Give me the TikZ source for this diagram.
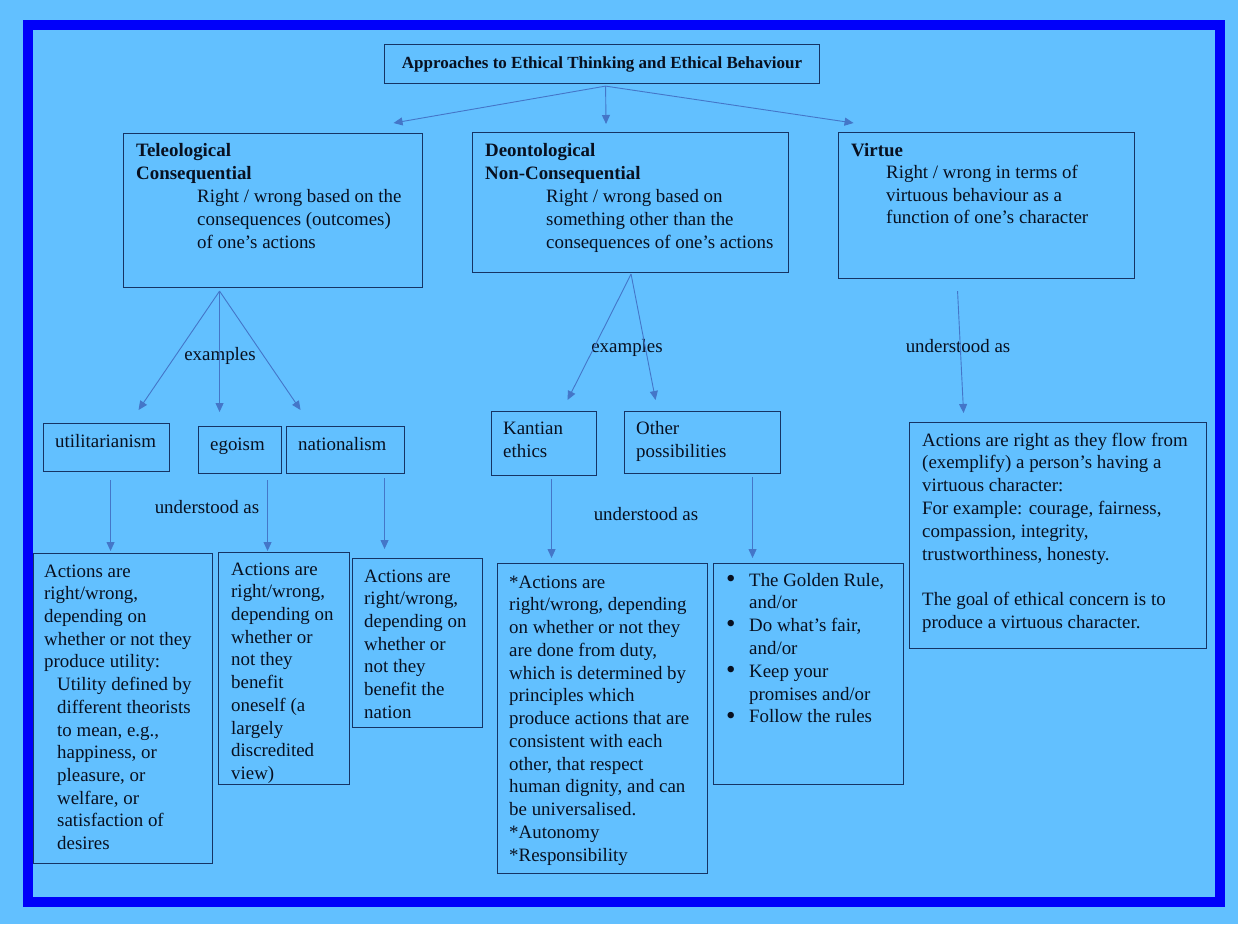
\documentclass[tikz,border=0pt]{standalone}
\usepackage{fontspec}
\setmainfont{Liberation Serif}
\usetikzlibrary{arrows.meta}
\definecolor{bgcol}{RGB}{98,192,255}
\definecolor{framecol}{RGB}{0,0,250}
\definecolor{boxcol}{RGB}{22,52,100}
\definecolor{arrcol}{RGB}{68,118,200}
\definecolor{txtcol}{RGB}{8,16,32}
\newcommand{\bodyfnt}{\fontsize{18.9}{23}\selectfont}
\newcommand{\bul}{\makebox[23pt][l]{\raisebox{-1.2pt}{\fontsize{27}{23}\selectfont •}}}
\begin{document}
\begin{tikzpicture}[x=1pt,y=-1pt,
  box/.style={draw=boxcol,line width=1.1pt,inner sep=0pt,anchor=north west},
  txt/.style={anchor=north west,inner sep=0pt,align=left,text=txtcol,font=\bodyfnt},
  hd/.style={txt,font=\bodyfnt\bfseries},
  lbl/.style={anchor=base,inner sep=0pt,text=txtcol,font=\bodyfnt},
  arr/.style={draw=arrcol,line width=0.9pt,-{Triangle[length=9pt,width=8pt]}}]
\useasboundingbox[fill=bgcol] (0,0) rectangle (1238,924);
\draw[line width=10pt,framecol] (28,25) rectangle (1220,902);
% boxes
\node[box,minimum width=435pt,minimum height=39pt] (title) at (384,44) {};
\node[text=txtcol,font=\fontsize{17}{20}\selectfont\bfseries,inner sep=0pt] (titlet) at (title.center) {Approaches to Ethical Thinking and Ethical Behaviour};
\node[box,minimum width=299pt,minimum height=154pt] (tele) at (123,133) {};
\node[box,minimum width=316pt,minimum height=140pt] (deon) at (472,132) {};
\node[box,minimum width=296pt,minimum height=146pt] (virt) at (838,132) {};
\node[box,minimum width=126pt,minimum height=48pt] (util) at (43,423) {};
\node[box,minimum width=83pt,minimum height=47pt] (ego) at (198,426) {};
\node[box,minimum width=118pt,minimum height=47pt] (nat) at (286,426) {};
\node[box,minimum width=105pt,minimum height=64pt] (kant) at (491,411) {};
\node[box,minimum width=156pt,minimum height=62pt] (other) at (624,411) {};
\node[box,minimum width=297pt,minimum height=226pt] (virtd) at (909,422) {};
\node[box,minimum width=179pt,minimum height=310pt] (utila) at (33,553) {};
\node[box,minimum width=131pt,minimum height=232pt] (egoa) at (218,552) {};
\node[box,minimum width=130pt,minimum height=169pt] (nata) at (352,558) {};
\node[box,minimum width=210pt,minimum height=310pt] (kanta) at (497,563) {};
\node[box,minimum width=190pt,minimum height=221pt] (othera) at (713,563) {};
% texts
\node[hd] (teleh) at (136,140) {\strut Teleological\\Consequential};
\node[txt] (teleb) at (197,186) {\strut Right / wrong based on the\\consequences (outcomes)\\of one’s actions};
\node[hd] (deonh) at (485,140) {\strut Deontological\\Non-Consequential};
\node[txt] (deonb) at (546,186) {\strut Right / wrong based on\\something other than the\\consequences of one’s actions};
\node[hd] (virth) at (851,140) {\strut Virtue};
\node[txt,font=\fontsize{18.9}{22.5}\selectfont] (virtb) at (886,163) {\strut Right / wrong in terms of\\virtuous behaviour as a\\function of one’s character};
\node[txt] (utilt) at (55,431) {\strut utilitarianism};
\node[txt] (egot) at (210,434) {\strut egoism};
\node[txt] (natt) at (298,434) {\strut nationalism};
\node[txt] (kantt) at (503,418) {\strut Kantian\\ethics};
\node[txt] (othert) at (636,418) {\strut Other\\possibilities};
\node[txt,font=\fontsize{18.9}{22.8}\selectfont] (virtdt) at (922,430) {\strut Actions are right as they flow from\\(exemplify) a person’s having a\\virtuous character:\\For example: courage, fairness,\\compassion, integrity,\\trustworthiness, honesty.\\[22.5pt]The goal of ethical concern is to\\produce a virtuous character.};
\node[txt,font=\fontsize{18.9}{22.7}\selectfont] (utilat) at (44,561) {\strut Actions are\\right/wrong,\\depending on\\whether or not they\\produce utility:\\\hspace*{13pt}Utility defined by\\\hspace*{13pt}different theorists\\\hspace*{13pt}to mean, e.g.,\\\hspace*{13pt}happiness, or\\\hspace*{13pt}pleasure, or\\\hspace*{13pt}welfare, or\\\hspace*{13pt}satisfaction of\\\hspace*{13pt}desires};
\node[txt,font=\fontsize{18.9}{22.7}\selectfont] (egoat) at (231,559) {\strut Actions are\\right/wrong,\\depending on\\whether or\\not they\\benefit\\oneself (a\\largely\\discredited\\view)};
\node[txt,font=\fontsize{18.9}{22.7}\selectfont] (natat) at (364,566) {\strut Actions are\\right/wrong,\\depending on\\whether or\\not they\\benefit the\\nation};
\node[txt,font=\fontsize{18.9}{22.75}\selectfont] (kantat) at (509,572) {\strut *Actions are\\right/wrong, depending\\on whether or not they\\are done from duty,\\which is determined by\\principles which\\produce actions that are\\consistent with each\\other, that respect\\human dignity, and can\\be universalised.\\*Autonomy\\*Responsibility};
\node[txt,font=\fontsize{18.9}{22.8}\selectfont] (otherat) at (726,570) {\strut\bul The Golden Rule,\\\hspace*{23pt}and/or\\\bul Do what’s fair,\\\hspace*{23pt}and/or\\\bul Keep your\\\hspace*{23pt}promises and/or\\\bul Follow the rules};
% labels
\node[lbl] (ex1) at (220,360) {examples};
\node[lbl] (ex2) at (627,352) {examples};
\node[lbl] (ua1) at (207,513) {understood as};
\node[lbl] (ua2) at (646,520) {understood as};
\node[lbl] (ua3) at (958,352) {understood as};
% arrows
\draw[arr] ([shift={(3.5,2)}]title.south) -- ([shift={(120.5,-10)}]tele.north);
\draw[arr] ([shift={(3.5,2)}]title.south) -- ([shift={(-24.5,-8)}]deon.north);
\draw[arr] ([shift={(3.5,2)}]title.south) -- ([shift={(-133,-9)}]virt.north);
\draw[arr] ([shift={(-53.5,3)}]tele.south) -- ([shift={(32,-13)}]util.north);
\draw[arr] ([shift={(-53.5,3)}]tele.south) -- ([shift={(-20.5,-14)}]ego.north);
\draw[arr] ([shift={(-53.5,3)}]tele.south) -- ([shift={(-45,-16)}]nat.north);
\draw[arr] ([shift={(0.5,1)}]deon.south) -- ([shift={(23.5,-11)}]kant.north);
\draw[arr] ([shift={(0.5,1)}]deon.south) -- ([shift={(-47,-11)}]other.north);
\draw[arr] ([shift={(-29,12)}]virt.south) -- ([shift={(-94.5,-9)}]virtd.north);
\draw[arr] ([shift={(4,8)}]util.south) -- ([shift={(-12.5,-2)}]utila.north);
\draw[arr] ([shift={(27.5,6)}]ego.south) -- ([shift={(-16.5,-1)}]egoa.north);
\draw[arr] ([shift={(39,4)}]nat.south) -- ([shift={(-33,-9)}]nata.north);
\draw[arr] ([shift={(7.5,3)}]kant.south) -- ([shift={(-51,-5)}]kanta.north);
\draw[arr] ([shift={(50,3)}]other.south) -- ([shift={(-56,-5)}]othera.north);
\end{tikzpicture}
\end{document}
